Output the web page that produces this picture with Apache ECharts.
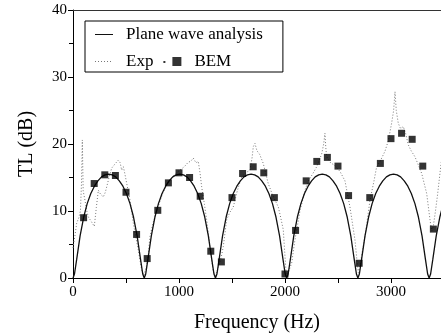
<!DOCTYPE html>
<html>
<head>
<meta charset="utf-8">
<script src="https://cdn.jsdelivr.net/npm/echarts@6/dist/echarts.min.js"></script>
<style>
  html, body { margin: 0; padding: 0; background: #fff; }
  #chart { width: 441px; height: 335px; }
</style>
</head>
<body>
<div id="chart"></div>
<script>
// Plane wave analysis curve
const planeFreq = [
  0, 14, 34, 67, 101, 134, 168, 202, 235, 269, 302, 336, 370, 403, 437, 471, 504, 538, 571, 605, 638, 658,
  672, 686, 706, 739, 773, 806, 840, 874, 907, 941, 974, 1008, 1042, 1075, 1109, 1143, 1176, 1210, 1243, 1277, 1310, 1330,
  1344, 1358, 1378, 1411, 1445, 1478, 1512, 1546, 1579, 1613, 1646, 1680, 1714, 1747, 1781, 1815, 1848, 1882, 1915, 1949, 1982, 2002,
  2016, 2030, 2050, 2083, 2117, 2150, 2184, 2218, 2251, 2285, 2318, 2352, 2386, 2419, 2453, 2487, 2520, 2554, 2587, 2621, 2654, 2674,
  2688, 2702, 2722, 2755, 2789, 2822, 2856, 2890, 2923, 2957, 2990, 3024, 3058, 3091, 3125, 3159, 3192, 3226, 3259, 3293, 3326, 3346,
  3360, 3374, 3394, 3427, 3461, 3494
];
const planeTL = [
  0, 0.6, 2.7, 6.3, 9.1, 11.1, 12.6, 13.7, 14.5, 15.1, 15.4, 15.5, 15.4, 15.1, 14.5, 13.7, 12.6, 11.1, 9.1, 6.3, 2.7, 0.6,
  0, 0.6, 2.7, 6.3, 9.1, 11.1, 12.6, 13.7, 14.5, 15.1, 15.4, 15.5, 15.4, 15.1, 14.5, 13.7, 12.6, 11.1, 9.1, 6.3, 2.7, 0.6,
  0, 0.6, 2.7, 6.3, 9.1, 11.1, 12.6, 13.7, 14.5, 15.1, 15.4, 15.5, 15.4, 15.1, 14.5, 13.7, 12.6, 11.1, 9.1, 6.3, 2.7, 0.6,
  0, 0.6, 2.7, 6.3, 9.1, 11.1, 12.6, 13.7, 14.5, 15.1, 15.4, 15.5, 15.4, 15.1, 14.5, 13.7, 12.6, 11.1, 9.1, 6.3, 2.7, 0.6,
  0, 0.6, 2.7, 6.3, 9.1, 11.1, 12.6, 13.7, 14.5, 15.1, 15.4, 15.5, 15.4, 15.1, 14.5, 13.7, 12.6, 11.1, 9.1, 6.3, 2.7, 0.6,
  0, 0.6, 2.7, 6.3, 9.1, 11.1
];

// Measured (Exp) curve
const expFreq = [
  0, 20, 35, 55, 70, 80, 88, 96, 113, 130, 145, 170, 201, 220, 239, 260, 286, 305, 318, 340, 365, 395, 428, 445, 459, 475, 490, 507,
  538, 569, 600, 616, 648, 668, 690, 710, 726, 760, 800, 850, 900, 950, 1000, 1050, 1088, 1110, 1135, 1160, 1182, 1200, 1214, 1240,
  1261, 1292, 1310, 1324, 1345, 1370, 1400, 1418, 1450, 1480, 1512, 1550, 1591, 1630, 1670, 1690, 1701, 1717, 1735, 1760, 1795, 1820,
  1842, 1880, 1910, 1937, 1960, 1984, 2000, 2012, 2030, 2063, 2094, 2120, 2142, 2165, 2189, 2220, 2260, 2299, 2346, 2365, 2377, 2385,
  2393, 2430, 2470, 2519, 2566, 2613, 2660, 2680, 2692, 2710, 2730, 2755, 2802, 2840, 2865, 2900, 2943, 2975, 3006, 3025, 3038, 3050,
  3069, 3090, 3116, 3140, 3163, 3190, 3226, 3260, 3290, 3337, 3368, 3385, 3399, 3420, 3440, 3462, 3480
];
const expTL = [
  4.5, 6.5, 8.2, 9, 10, 14, 20.6, 13, 11.6, 10, 9.1, 8.5, 7.7, 10.5, 13.1, 12.5, 12.1, 12.8, 13.6, 15, 16.4, 17, 17.6, 17.2, 16.1, 16.6, 15.5, 14.1,
  11.6, 8.2, 5.5, 4.2, 1.2, 0.4, 1.5, 3.5, 6.2, 8.5, 10.5, 12.8, 14.3, 15.3, 16, 16.6, 17.3, 17.4, 17.9, 17.2, 17.4, 15.5, 13.6, 11,
  8.7, 4.7, 2.5, 0.9, 0.4, 1.5, 3.2, 4.7, 8.7, 9.8, 10.6, 13, 15.1, 15.7, 16.1, 18, 19.6, 20.1, 19, 18.5, 17.1, 15.5,
  14.1, 12.5, 11.5, 10.6, 9, 7.2, 3.2, 0.5, 0.8, 2.2, 5.7, 8, 10.1, 11.5, 13.1, 14.5, 15.5, 16.6, 18.5, 20, 21.6, 19.5,
  18.1, 17.2, 16.8, 15.9, 14.5, 10.6, 5.7, 2.5, 0.8, 2, 4, 6.2, 11.6, 14.5, 16.6, 17.5, 18.9, 20.5, 23.1, 25, 27.8, 25,
  23.1, 22.3, 22.6, 21.5, 19.9, 19, 18.1, 16.8, 15.6, 12.6, 8.7, 7, 7.7, 10, 12.5, 15.6, 18
];

// BEM results
const bemFreq = [
  100, 200, 300, 400, 500, 600, 700, 800, 900, 1000, 1100, 1200, 1300, 1400, 1500, 1600, 1700,
  1800, 1900, 2000, 2100, 2200, 2300, 2400, 2500, 2600, 2700, 2800, 2900, 3000, 3100, 3200, 3300, 3400
];
const bemTL = [
  9.0, 14.1, 15.4, 15.3, 12.8, 6.5, 2.9, 10.1, 14.2, 15.7, 15.0, 12.2, 4.0, 2.4, 12.0, 15.6, 16.6,
  15.7, 12.0, 0.6, 7.1, 14.5, 17.4, 18.0, 16.7, 12.3, 2.2, 12.0, 17.1, 20.8, 21.6, 20.7, 16.7, 7.3
];

const font = 'Liberation Serif';
const pairs = (xs, ys) => xs.map((x, i) => [x, ys[i]]);

// legend icons, drawn in an 18x9 box (tiny corner specks fix the box size)
const box = 'M0,0h0.01v0.01h-0.01zM17.99,8.99h0.01v0.01h-0.01z';
const solidIcon = 'path://' + box + 'M0,3.9h18v1.2h-18z';
const dottedIcon = 'path://' + box + 'M0,4h1v1h-1zM3,4h1v1h-1zM6,4h1v1h-1zM9,4h1v1h-1zM12,4h1v1h-1zM15,4h1v1h-1z';
const bemIcon = 'path://M0,4h2v2h-2zM9,0h9v9h-9z';

const chart = echarts.init(document.getElementById('chart'));

chart.setOption({
  backgroundColor: '#fff',
  animation: false,
  grid: { left: 73, right: 0, top: 10, bottom: 57, outerBoundsMode: 'none' },
  legend: {
    left: 85,
    top: 21,
    width: 200,
    padding: [5, 20, 2, 10],
    itemGap: 10,
    itemWidth: 18,
    itemHeight: 9,
    borderColor: '#000',
    borderWidth: 1,
    textStyle: { fontFamily: font, fontSize: 17, color: '#000', padding: [0, 0, 0, 8] },
    data: [
      { name: 'Plane wave analysis', icon: solidIcon },
      { name: 'Exp', icon: dottedIcon },
      { name: 'BEM', icon: bemIcon }
    ]
  },
  xAxis: [
    {
      type: 'value',
      min: 0,
      max: 3472,
      interval: 1000,
      name: 'Frequency (Hz)',
      nameLocation: 'middle',
      nameGap: 35,
      nameTextStyle: { fontFamily: font, fontSize: 20, color: '#000' },
      axisLine: { lineStyle: { color: '#000', width: 1 } },
      axisTick: { length: 5, lineStyle: { color: '#000' } },
      minorTick: { show: true, splitNumber: 2, length: 5, lineStyle: { color: '#000' } },
      axisLabel: {
        fontFamily: font, fontSize: 15, color: '#000', margin: 7,
        showMaxLabel: false,
        formatter: v => (v % 1000 === 0 ? String(v) : '')
      },
      splitLine: { show: false }
    },
    {
      type: 'value',
      position: 'top',
      min: 0,
      max: 3472,
      axisLine: { show: true, lineStyle: { color: '#333', width: 1 } },
      axisTick: { show: false },
      axisLabel: { show: false },
      splitLine: { show: false }
    }
  ],
  yAxis: {
    type: 'value',
    min: 0,
    max: 40,
    interval: 10,
    name: 'TL (dB)',
    nameLocation: 'middle',
    nameGap: 36,
    nameTextStyle: { fontFamily: font, fontSize: 20, color: '#000' },
    axisLine: { show: true, lineStyle: { color: '#000', width: 1 } },
    axisTick: { length: 5, lineStyle: { color: '#000' } },
    minorTick: { show: true, splitNumber: 2, length: 4, lineStyle: { color: '#000' } },
    axisLabel: { fontFamily: font, fontSize: 15, color: '#000', margin: 6 },
    splitLine: { show: false }
  },
  series: [
    {
      name: 'Plane wave analysis',
      type: 'line',
      data: pairs(planeFreq, planeTL),
      showSymbol: false,
      symbol: 'none',
      lineStyle: { color: '#111', width: 1.3 },
      itemStyle: { color: '#111' },
      z: 3
    },
    {
      name: 'Exp',
      type: 'line',
      data: pairs(expFreq, expTL),
      showSymbol: false,
      symbol: 'none',
      lineStyle: { color: '#777', width: 1, type: [1, 2] },
      itemStyle: { color: '#777' },
      z: 2
    },
    {
      name: 'BEM',
      type: 'scatter',
      data: pairs(bemFreq, bemTL),
      symbol: 'rect',
      symbolSize: 7,
      itemStyle: { color: '#000' },
      z: 4
    }
  ]
});
</script>
</body>
</html>
